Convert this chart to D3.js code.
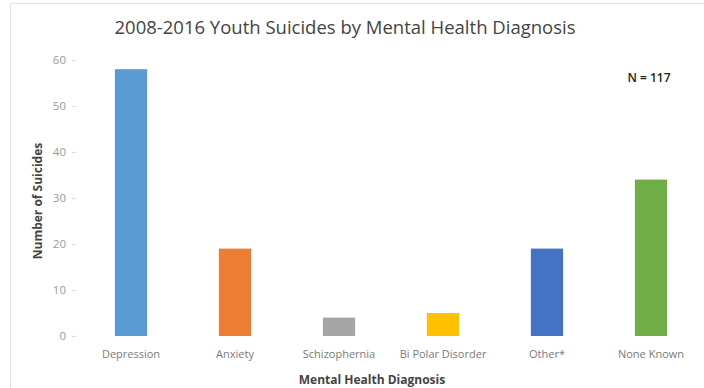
<!DOCTYPE html>
<html>
<head>
<meta charset="utf-8">
<script src="https://cdn.jsdelivr.net/npm/d3@7"></script>
<style>
  html, body { margin: 0; padding: 0; background: #fff; }
  svg { display: block; font-family: "Open Sans", "Noto Sans", sans-serif; }
</style>
</head>
<body>
<svg id="chart" width="704" height="388"></svg>
<script>
// Diagnoses and suicide counts, 2008-2016
const categories = ["Depression", "Anxiety", "Schizophernia", "Bi Polar Disorder", "Other*", "None Known"];
const suicides = [58, 19, 4, 5, 19, 34];
const barColors = ["#5b9bd5", "#ed7d31", "#a5a5a5", "#ffc000", "#4472c4", "#70ad47"];
const yTicks = [0, 10, 20, 30, 40, 50, 60];

const svg = d3.select("#chart");
const W = 704, H = 388;

// light chart frame
svg.append("rect")
  .attr("x", 10.5).attr("y", 3.5)
  .attr("width", W - 8).attr("height", H)
  .attr("fill", "#fff").attr("stroke", "#e4e4e4");

const x = d3.scaleBand()
  .domain(categories)
  .range([79, 703])
  .paddingInner(0.69)
  .paddingOuter(0.345);

const y = d3.scaleLinear()
  .domain([0, 60])
  .range([336, 60]);

// y axis: labels and small ticks, no domain line
const yAxis = svg.append("g")
  .attr("transform", "translate(76,0)")
  .call(d3.axisLeft(y).tickValues(yTicks).tickSize(4).tickPadding(6));
yAxis.select(".domain").remove();
yAxis.selectAll(".tick line").attr("stroke", "#dddddd");
yAxis.selectAll(".tick text")
  .attr("fill", "#9a9a9a")
  .style("font-size", "11.5px")
  .style("font-family", "'Open Sans', sans-serif");

// bars
svg.append("g").selectAll("rect")
  .data(categories)
  .join("rect")
  .attr("x", d => x(d))
  .attr("width", x.bandwidth())
  .attr("y", (d, i) => y(suicides[i]))
  .attr("height", (d, i) => y(0) - y(suicides[i]))
  .attr("fill", (d, i) => barColors[i]);

// x axis category labels
const xAxis = svg.append("g")
  .attr("transform", "translate(0,341)")
  .call(d3.axisBottom(x).tickSize(0).tickPadding(9));
xAxis.select(".domain").remove();
xAxis.selectAll(".tick text")
  .attr("fill", "#7a7a7a")
  .style("font-size", "11px")
  .style("font-family", "'Open Sans', sans-serif");

// title
svg.append("text")
  .attr("x", 345).attr("y", 34)
  .attr("text-anchor", "middle")
  .attr("fill", "#444")
  .style("font-size", "18.5px")
  .text("2008-2016 Youth Suicides by Mental Health Diagnosis");

// axis titles
svg.append("text")
  .attr("x", 372).attr("y", 384)
  .attr("text-anchor", "middle")
  .attr("fill", "#444")
  .style("font-size", "12px")
  .style("font-weight", "bold")
  .text("Mental Health Diagnosis");

svg.append("text")
  .attr("transform", "translate(42,201) rotate(-90)")
  .attr("text-anchor", "middle")
  .attr("fill", "#444")
  .style("font-size", "12px")
  .style("font-weight", "bold")
  .text("Number of Suicides");

// sample size note
svg.append("text")
  .attr("x", 649).attr("y", 82)
  .attr("text-anchor", "middle")
  .attr("fill", "#222")
  .style("font-size", "12px")
  .style("font-weight", "600")
  .text("N = 117");
</script>
</body>
</html>
